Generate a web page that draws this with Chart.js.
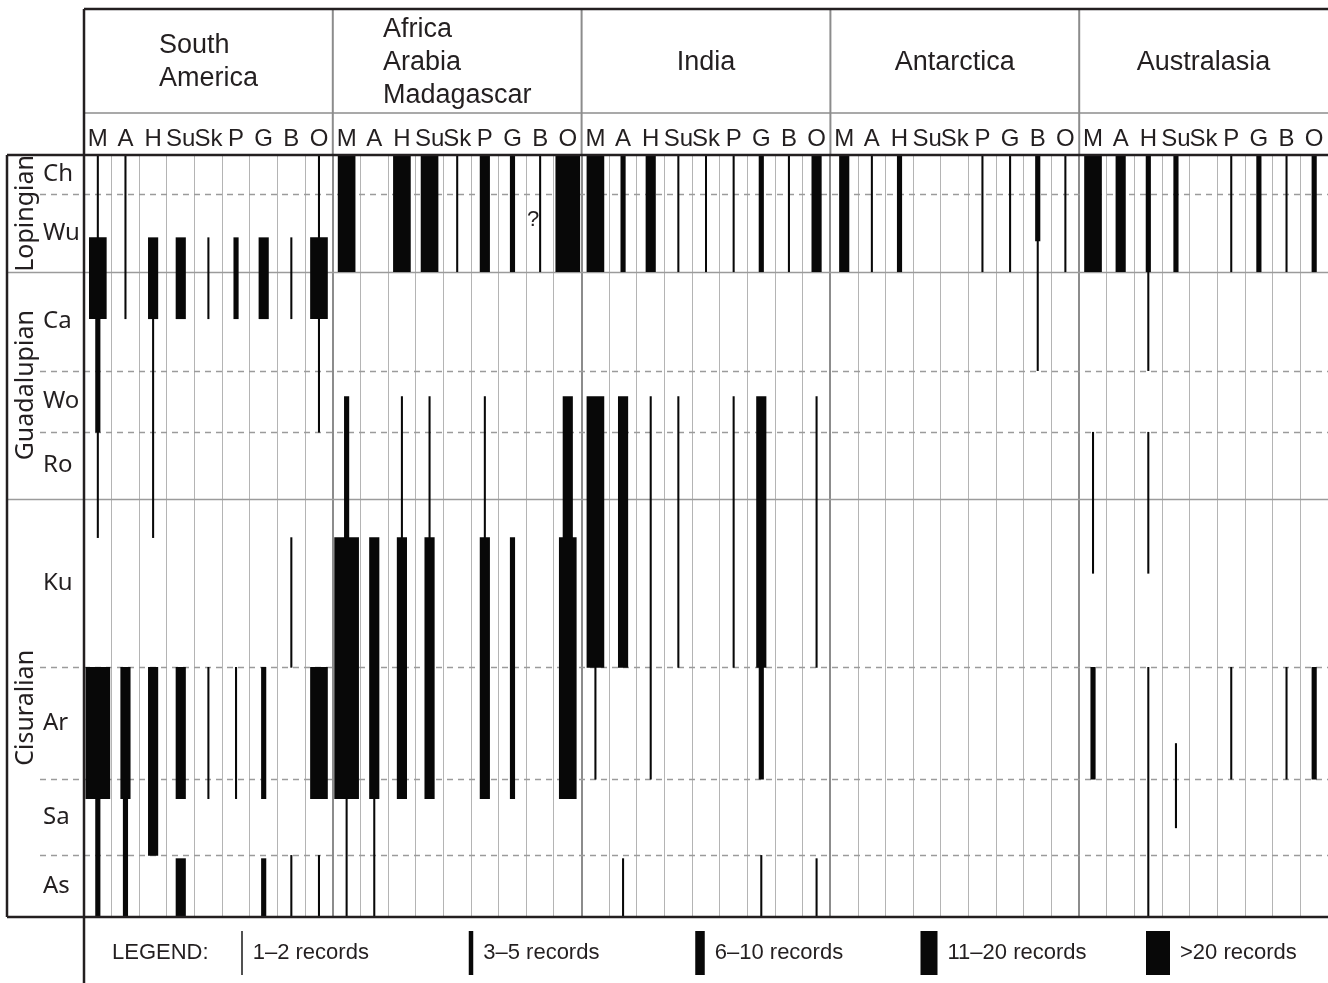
<!DOCTYPE html>
<html>
<head>
<meta charset="utf-8">
<script src="https://cdn.jsdelivr.net/npm/chart.js@4.4.1/dist/chart.umd.min.js"></script>
<style>
  html, body { margin: 0; padding: 0; background: #fff; }
  #wrap { width: 1328px; height: 983px; }
</style>
</head>
<body>
<div id="wrap"><canvas id="permian"></canvas></div>
<script>
// regions and the nine columns shown under each of them
const regions = ['South America', 'Africa Arabia Madagascar', 'India', 'Antarctica', 'Australasia'];
const regionTitles = [['South', 'America'], ['Africa', 'Arabia', 'Madagascar'], ['India'], ['Antarctica'], ['Australasia']];
const groups = ['M', 'A', 'H', 'Su', 'Sk', 'P', 'G', 'B', 'O'];

// stages, top to bottom (Ma)
const stages = ['Ch', 'Wu', 'Ca', 'Wo', 'Ro', 'Ku', 'Ar', 'Sa', 'As'];
const stageTop = 251.9;
const stageBase = [254.3, 259.1, 265.2, 269.0, 273.1, 283.5, 290.4, 295.1, 298.9];
const series = ['Lopingian', 'Guadalupian', 'Cisuralian'];
const seriesBase = [259.1, 273.1, 298.9];

const recordClasses = ['1–2 records', '3–5 records', '6–10 records', '11–20 records', '>20 records'];

// [column, record class, from Ma, to Ma]
const southAmerica = [
  ['M', 0, 251.9, 257.0], ['M', 3, 257.0, 262.0], ['M', 1, 262.0, 269.0], ['M', 0, 269.0, 275.5],
  ['M', 4, 283.5, 291.6], ['M', 1, 291.6, 298.9],
  ['A', 0, 251.9, 262.0], ['A', 2, 283.5, 291.6], ['A', 1, 291.6, 298.9],
  ['H', 2, 257.0, 262.0], ['H', 0, 262.0, 275.5], ['H', 2, 283.5, 295.1],
  ['Su', 2, 257.0, 262.0], ['Su', 2, 283.5, 291.6], ['Su', 2, 295.3, 298.9],
  ['Sk', 0, 257.0, 262.0], ['Sk', 0, 283.5, 291.6],
  ['P', 1, 257.0, 262.0], ['P', 0, 283.5, 291.6],
  ['G', 2, 257.0, 262.0], ['G', 1, 283.5, 291.6], ['G', 1, 295.3, 298.9],
  ['B', 0, 257.0, 262.0], ['B', 0, 275.5, 283.5], ['B', 0, 295.1, 298.9],
  ['O', 0, 251.9, 257.0], ['O', 3, 257.0, 262.0], ['O', 0, 262.0, 269.0], ['O', 3, 283.5, 291.6],
  ['O', 0, 295.1, 298.9]
];
const africaArabiaMadagascar = [
  ['M', 3, 251.9, 259.1], ['M', 1, 266.8, 275.5], ['M', 4, 275.5, 291.6], ['M', 0, 291.6, 298.9],
  ['A', 2, 275.5, 291.6], ['A', 0, 291.6, 298.9],
  ['H', 3, 251.9, 259.1], ['H', 0, 266.8, 275.5], ['H', 2, 275.5, 291.6],
  ['Su', 3, 251.9, 259.1], ['Su', 0, 266.8, 275.5], ['Su', 2, 275.5, 291.6],
  ['Sk', 0, 251.9, 259.1],
  ['P', 2, 251.9, 259.1], ['P', 0, 266.8, 275.5], ['P', 2, 275.5, 291.6],
  ['G', 1, 251.9, 259.1], ['G', 1, 275.5, 291.6],
  ['B', 0, 251.9, 259.1],
  ['O', 4, 251.9, 259.1], ['O', 2, 266.8, 275.5], ['O', 3, 275.5, 291.6]
];
const india = [
  ['M', 3, 251.9, 259.1], ['M', 3, 266.8, 283.5], ['M', 0, 283.5, 290.4],
  ['A', 1, 251.9, 259.1], ['A', 2, 266.8, 283.5], ['A', 0, 295.3, 298.9],
  ['H', 2, 251.9, 259.1], ['H', 0, 266.8, 290.4],
  ['Su', 0, 251.9, 259.1], ['Su', 0, 266.8, 283.5],
  ['Sk', 0, 251.9, 259.1],
  ['P', 0, 251.9, 259.1], ['P', 0, 266.8, 283.5],
  ['G', 1, 251.9, 259.1], ['G', 2, 266.8, 283.5], ['G', 1, 283.5, 290.4], ['G', 0, 295.1, 298.9],
  ['B', 0, 251.9, 259.1],
  ['O', 2, 251.9, 259.1], ['O', 0, 266.8, 283.5], ['O', 0, 295.3, 298.9]
];
const antarctica = [
  ['M', 2, 251.9, 259.1], ['A', 0, 251.9, 259.1], ['H', 1, 251.9, 259.1],
  ['P', 0, 251.9, 259.1], ['G', 0, 251.9, 259.1],
  ['B', 1, 251.9, 257.2], ['B', 0, 257.2, 265.2],
  ['O', 0, 251.9, 259.1]
];
const australasia = [
  ['M', 3, 251.9, 259.1], ['M', 0, 269.0, 277.7], ['M', 1, 283.5, 290.4],
  ['A', 2, 251.9, 259.1],
  ['H', 1, 251.9, 259.1], ['H', 0, 259.1, 265.2], ['H', 0, 269.0, 277.7], ['H', 0, 283.5, 298.9],
  ['Su', 1, 251.9, 259.1], ['Su', 0, 288.2, 293.4],
  ['P', 0, 251.9, 259.1], ['P', 0, 283.5, 290.4],
  ['G', 1, 251.9, 259.1],
  ['B', 0, 251.9, 259.1], ['B', 0, 283.5, 290.4],
  ['O', 1, 251.9, 259.1], ['O', 1, 283.5, 290.4]
];

const classWidth = [1.4, 4.5, 9.5, 17, 24];
const ink = '#231f20';

const columnKeys = regions.flatMap(r => groups.map(g => r + ' ' + g));
const datasets = recordClasses.map((name, k) => ({
  label: name,
  data: [],
  backgroundColor: '#080808',
  barThickness: classWidth[k],
  grouped: false
}));
[southAmerica, africaArabiaMadagascar, india, antarctica, australasia].forEach((list, r) => {
  list.forEach(([g, k, from, to]) => {
    datasets[k].data.push({ x: regions[r] + ' ' + g, y: [from, to] });
  });
});

const stageMid = stages.map((s, i) => ((i ? stageBase[i - 1] : stageTop) + stageBase[i]) / 2);

const permianFrame = {
  id: 'permianFrame',
  beforeDatasetsDraw(chart) {
    const { ctx, chartArea: a, scales: { y } } = chart;
    ctx.save();
    ctx.strokeStyle = '#9b9b9b';
    ctx.lineWidth = 1.3;
    stageBase.slice(0, -1).forEach(v => {
      const py = Math.round(y.getPixelForValue(v)) + 0.5;
      const solid = seriesBase.includes(v);
      ctx.setLineDash(solid ? [] : [6, 5]);
      ctx.beginPath();
      ctx.moveTo(solid ? 7 : 40, py);
      ctx.lineTo(a.right, py);
      ctx.stroke();
    });
    ctx.restore();
  },
  afterDraw(chart) {
    const { ctx, chartArea: a, scales: { x, y } } = chart;
    const regionW = (a.right - a.left) / regions.length;
    ctx.save();

    // header cells
    ctx.strokeStyle = '#8c8c8c';
    ctx.lineWidth = 2;
    for (let r = 1; r < regions.length; r++) {
      const px = a.left + r * regionW;
      ctx.beginPath(); ctx.moveTo(px, 9); ctx.lineTo(px, a.top); ctx.stroke();
    }
    ctx.lineWidth = 1.5;
    ctx.beginPath(); ctx.moveTo(a.left, 113); ctx.lineTo(a.right, 113); ctx.stroke();

    // black frame
    ctx.strokeStyle = ink;
    ctx.lineWidth = 2.5;
    ctx.beginPath();
    ctx.moveTo(a.left, 9); ctx.lineTo(a.right, 9);
    ctx.moveTo(a.left, 9); ctx.lineTo(a.left, chart.height);
    ctx.moveTo(7, a.top); ctx.lineTo(a.right, a.top);
    ctx.moveTo(7, a.bottom); ctx.lineTo(a.right, a.bottom);
    ctx.moveTo(7, a.top); ctx.lineTo(7, a.bottom);
    ctx.stroke();

    // region names
    ctx.fillStyle = ink;
    ctx.font = '27px "Liberation Sans", Arial, sans-serif';
    ctx.textBaseline = 'middle';
    ctx.textAlign = 'left';
    regionTitles.forEach((lines, r) => {
      const w = Math.max(...lines.map(t => ctx.measureText(t).width));
      const cx = a.left + (r + 0.5) * regionW;
      const y0 = 62.5 - (lines.length - 1) * 33 / 2;
      lines.forEach((t, i) => ctx.fillText(t, cx - w / 2, y0 + i * 33));
    });

    // series names, rotated
    ctx.font = '25px "Noto Sans", sans-serif';
    ctx.textAlign = 'center';
    series.forEach((s, i) => {
      const top = y.getPixelForValue(i ? seriesBase[i - 1] : stageTop);
      const bot = y.getPixelForValue(seriesBase[i]);
      ctx.save();
      ctx.translate(26, (top + bot) / 2);
      ctx.rotate(-Math.PI / 2);
      ctx.fillText(s, 0, 0);
      ctx.restore();
    });

    // uncertain record
    ctx.font = '22px "Liberation Sans", Arial, sans-serif';
    ctx.fillText('?', x.getPixelForValue(columnKeys.indexOf('Africa Arabia Madagascar B')) - 7, y.getPixelForValue(255.9));

    // legend
    ctx.textAlign = 'left';
    const ly = (a.bottom + chart.height) / 2 + 3;
    ctx.fillText('LEGEND:', 112, ly);
    recordClasses.forEach((name, k) => {
      const cx = 242 + 229 * k;
      const w = classWidth[k];
      ctx.fillStyle = '#080808';
      ctx.fillRect(cx - w / 2, ly - 22, w, 44);
      ctx.fillStyle = ink;
      ctx.fillText(name, cx + w / 2 + 10, ly);
    });
    ctx.restore();
  }
};

new Chart('permian', {
  type: 'bar',
  data: { labels: columnKeys, datasets: datasets },
  options: {
    responsive: true,
    maintainAspectRatio: false,
    animation: false,
    events: [],
    layout: { padding: { left: 43, top: 113, right: 0, bottom: 66 } },
    plugins: {
      legend: { display: false },
      tooltip: { enabled: false }
    },
    scales: {
      x: {
        type: 'category',
        position: 'top',
        offset: true,
        grid: {
          offset: true,
          drawTicks: false,
          color: c => (c.index % 9 === 0 ? '#8c8c8c' : '#b4b4b4'),
          lineWidth: c => (c.index % 9 === 0 ? 2 : 1)
        },
        border: { display: false },
        ticks: {
          autoSkip: false,
          maxRotation: 0,
          padding: 1,
          color: ink,
          font: { family: '"Liberation Sans", Arial, sans-serif', size: 24 },
          callback: (v, i) => groups[i % groups.length]
        },
        afterFit: s => { s.height = 42; }
      },
      y: {
        type: 'linear',
        reverse: true,
        min: stageTop,
        max: stageBase[stageBase.length - 1],
        grid: { display: false },
        border: { display: false },
        afterBuildTicks: s => { s.ticks = stageMid.map(v => ({ value: v })); },
        ticks: {
          autoSkip: false,
          crossAlign: 'far',
          padding: 0,
          color: ink,
          font: { family: '"Noto Sans", sans-serif', size: 24 },
          callback: (v, i) => stages[i]
        },
        afterFit: s => { s.width = 41; }
      }
    }
  },
  plugins: [permianFrame]
});
</script>
</body>
</html>
